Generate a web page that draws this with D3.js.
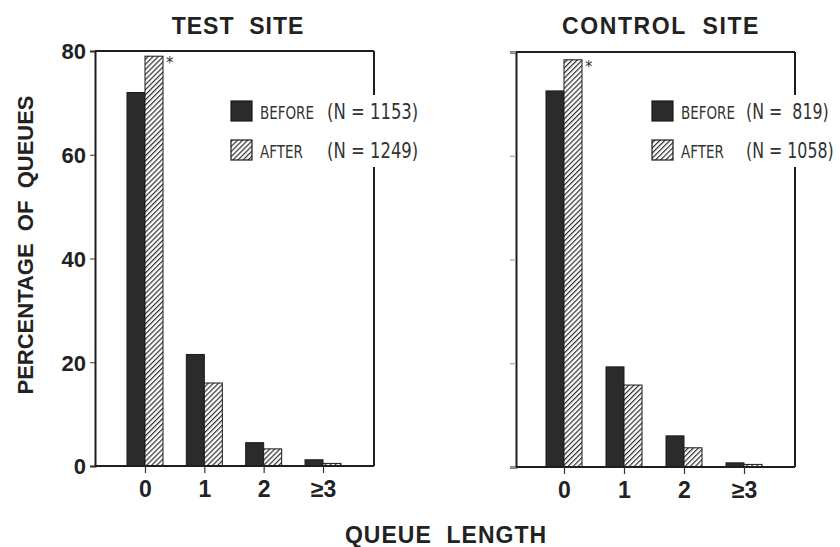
<!DOCTYPE html>
<html>
<head>
<meta charset="utf-8">
<script src="https://cdn.jsdelivr.net/npm/d3@7"></script>
<style>
  body { margin: 0; background: #fff; }
  svg { display: block; }
  .bold { font-family: "Liberation Sans", Arial, sans-serif; font-weight: bold; fill: #222; }
  .leg { font-family: "Liberation Sans Narrow", "DejaVu Sans Condensed", sans-serif; fill: #333; white-space: pre; }
</style>
</head>
<body>
<div id="chart"></div>
<script>
// data
var categories = ["0", "1", "2", "\u22653"];
var testBefore = [72, 21.5, 4.5, 1.2];
var testAfter = [79, 16, 3.3, 0.5];
var controlBefore = [72.5, 19.3, 6.0, 0.8];
var controlAfter = [78.5, 15.8, 3.7, 0.5];
var testN = ["1153", "1249"];
var controlN = [" 819", "1058"];
var yTicks = [0, 20, 40, 60, 80];
var legendLabels = ["BEFORE", "AFTER"];

var width = 840, height = 547;

var panels = [
  {title: "TEST SITE", before: testBefore, after: testAfter, n: testN,
   left: 95, right: 374, top: 51, bottom: 466, x0: 145, x1: 323, labels: true,
   titleX: 238, legX: 231, ls: 1, nOff: 96, nSize: 18.3},
  {title: "CONTROL SITE", before: controlBefore, after: controlAfter, n: controlN,
   left: 516, right: 795, top: 52, bottom: 467, x0: 564, x1: 744, labels: false,
   titleX: 661, legX: 652, ls: 1.6, nOff: 94, nSize: 17.6}
];

var svg = d3.select("#chart").append("svg")
    .attr("width", width)
    .attr("height", height);

var defs = svg.append("defs");
var pat = defs.append("pattern")
    .attr("id", "hatch")
    .attr("patternUnits", "userSpaceOnUse")
    .attr("width", 3.6)
    .attr("height", 3.6)
    .attr("patternTransform", "rotate(45)");
pat.append("rect").attr("width", 3.6).attr("height", 3.6).attr("fill", "#fff");
pat.append("line")
    .attr("x1", 0).attr("y1", 0).attr("x2", 0).attr("y2", 3.6)
    .attr("stroke", "#2e2e2e").attr("stroke-width", 2.4);

var barW = 18;

panels.forEach(function(p) {
  var g = svg.append("g");

  var y = d3.scaleLinear().domain([0, 80]).range([p.bottom, p.top]);
  var x = d3.scalePoint().domain(categories).range([p.x0, p.x1]);

  // title
  g.append("text")
    .attr("class", "bold")
    .attr("x", p.titleX)
    .attr("y", 34)
    .attr("text-anchor", "middle")
    .style("font-size", "23px")
    .style("letter-spacing", p.ls + "px")
    .style("white-space", "pre")
    .text(p.title.replace(" ", "  "));

  // bars
  var rows = categories.map(function(c, i) {
    return {cat: c, before: p.before[i], after: p.after[i]};
  });

  g.selectAll(".before")
    .data(rows)
    .enter().append("rect")
    .attr("x", function(d) { return x(d.cat) - barW; })
    .attr("y", function(d) { return y(d.before); })
    .attr("width", barW)
    .attr("height", function(d) { return y(0) - y(d.before); })
    .attr("fill", "#2b2b2b")
    .attr("stroke", "#1a1a1a")
    .attr("stroke-width", 1);

  g.selectAll(".after")
    .data(rows)
    .enter().append("rect")
    .attr("x", function(d) { return x(d.cat); })
    .attr("y", function(d) { return y(d.after); })
    .attr("width", barW)
    .attr("height", function(d) { return y(0) - y(d.after); })
    .attr("fill", "url(#hatch)")
    .attr("stroke", "#1a1a1a")
    .attr("stroke-width", 1);

  // asterisk on the first after bar
  g.append("text")
    .attr("x", x(categories[0]) + barW + 3)
    .attr("y", y(p.after[0]) + 12)
    .style("font-family", "DejaVu Sans, sans-serif")
    .style("font-size", "15px")
    .attr("fill", "#333")
    .text("*");

  // legend (tall, narrow typewriter-ish lettering)
  var legTop = 101;
  legendLabels.forEach(function(lab, i) {
    var ly = legTop + i * 39;
    g.append("rect")
      .attr("x", p.legX).attr("y", ly)
      .attr("width", 21).attr("height", 20)
      .attr("fill", i === 0 ? "#2b2b2b" : "url(#hatch)")
      .attr("stroke", "#1a1a1a").attr("stroke-width", 1.2);
    g.append("text").attr("class", "leg")
      .attr("transform", "translate(" + (p.legX + 29) + "," + (ly + 18) + ") scale(1,1.2)")
      .style("font-size", "15px")
      .text(lab);
    g.append("text").attr("class", "leg")
      .attr("transform", "translate(" + (p.legX + p.nOff) + "," + (ly + 18) + ") scale(1,1.2)")
      .style("font-size", p.nSize + "px")
      .text("(N = " + p.n[i] + ")");
  });

  // frame: top, bottom, right (broken by legend), left axis
  var frame = g.append("g").attr("stroke", "#1e1e1e").attr("stroke-width", 2).attr("fill", "none");
  frame.append("line").attr("x1", p.left).attr("x2", p.right).attr("y1", p.top).attr("y2", p.top);
  frame.append("line").attr("x1", p.left).attr("x2", p.right).attr("y1", p.bottom).attr("y2", p.bottom);
  frame.append("line").attr("x1", p.right).attr("x2", p.right).attr("y1", p.top).attr("y2", legTop - 6);
  frame.append("line").attr("x1", p.right).attr("x2", p.right).attr("y1", legTop + 66).attr("y2", p.bottom);

  var yAxis = g.append("g")
    .attr("transform", "translate(" + p.left + ",0)")
    .call(d3.axisLeft(y).tickValues(yTicks).tickSize(p.labels ? 5 : 6).tickPadding(4)
      .tickFormat(p.labels ? d3.format("d") : function() { return ""; }));
  yAxis.select(".domain").attr("stroke", "#1e1e1e").attr("stroke-width", 2);
  yAxis.selectAll(".tick line").attr("stroke", p.labels ? "#333" : "#999");
  yAxis.selectAll(".tick text")
    .attr("class", "bold")
    .style("font-size", "22px")
    .attr("dy", "0.36em");

  var xAxis = g.append("g")
    .attr("transform", "translate(0," + p.bottom + ")")
    .call(d3.axisBottom(x).tickSize(7).tickPadding(8));
  xAxis.select(".domain").remove();
  xAxis.selectAll(".tick line").attr("stroke", "#333").attr("stroke-width", 1.2);
  xAxis.selectAll(".tick text")
    .attr("class", "bold")
    .style("font-size", "23px");
});

// shared axis titles
svg.append("text")
  .attr("class", "bold")
  .attr("x", 446)
  .attr("y", 543)
  .attr("text-anchor", "middle")
  .style("font-size", "23px")
  .style("letter-spacing", "1px")
  .style("white-space", "pre")
  .text("QUEUE  LENGTH");

svg.append("text")
  .attr("class", "bold")
  .attr("transform", "translate(33,245) rotate(-90)")
  .attr("text-anchor", "middle")
  .style("font-size", "22px")
  .style("white-space", "pre")
  .text("PERCENTAGE  OF  QUEUES");
</script>
</body>
</html>
